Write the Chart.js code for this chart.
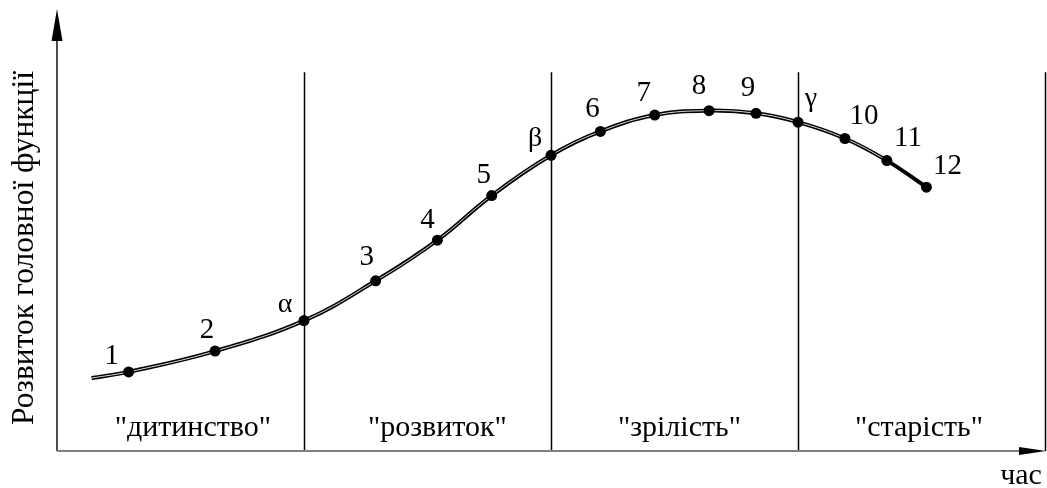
<!DOCTYPE html>
<html>
<head>
<meta charset="utf-8">
<script src="https://cdn.jsdelivr.net/npm/chart.js@4"></script>
<style>
  html, body { margin: 0; padding: 0; background: #fff; }
  #wrap { width: 1047px; height: 488px; }
</style>
</head>
<body>
<div id="wrap"><canvas id="lifeChart" width="1047" height="488"></canvas></div>
<script>
// Life cycle curve (time on x, development of the main function on y)
const timeValues = [0.14, 0.29, 0.64, 1.0, 1.29, 1.54, 1.76, 2.0, 2.2, 2.42, 2.64, 2.83, 3.0, 3.19, 3.36, 3.52];
const devValues = [16.5, 17.9, 22.6, 29.5, 38.5, 47.7, 57.8, 66.9, 72.3, 76.0, 77.0, 76.4, 74.4, 70.7, 65.7, 59.7];
const pointLabels = ['', '1', '2', 'α', '3', '4', '5', 'β', '6', '7', '8', '9', 'γ', '10', '11', '12'];
const stageNames = ['"дитинство"', '"розвиток"', '"зрілість"', '"старість"'];
const stageCenters = [0.55, 1.54, 2.52, 3.49];
const stageBounds = [1, 2, 3, 4];
const yTitle = 'Розвиток головної функції';
const xTitle = 'час';

const points = timeValues.map((t, i) => ({ x: t, y: devValues[i] }));
const SERIF = '"Liberation Serif", "Times New Roman", serif';

// label offsets from their point, px
const labelOffsets = [
    [0, 0], [-17, -15], [-8, -21], [-19, -16], [-9, -23], [-10, -20], [-8, -20], [-16, -17],
    [-8, -22], [-11, -22], [-10, -24], [-8, -25], [13, -24], [19, -22], [21, -22], [21, -21]
];

const decorPlugin = {
    id: 'decor',
    beforeDatasetsDraw(chart) {
        const ctx = chart.ctx;
        const xs = chart.scales.x, ys = chart.scales.y;
        const bottom = ys.getPixelForValue(0);
        const top = ys.getPixelForValue(85.7);
        ctx.save();
        ctx.strokeStyle = '#000';
        ctx.lineWidth = 1.5;
        stageBounds.forEach(b => {
            const px = Math.round(xs.getPixelForValue(b)) + 0.5;
            ctx.beginPath();
            ctx.moveTo(px, top);
            ctx.lineTo(px, bottom);
            ctx.stroke();
        });

        // y axis
        const x0 = xs.getPixelForValue(0);
        const yTop = ys.getPixelForValue(100);
        ctx.lineWidth = 1.4;
        ctx.beginPath();
        ctx.moveTo(x0, bottom);
        ctx.lineTo(x0, yTop + 30);
        ctx.stroke();
        ctx.fillStyle = '#000';
        ctx.beginPath();
        ctx.moveTo(x0, yTop);
        ctx.lineTo(x0 - 5.5, yTop + 32);
        ctx.lineTo(x0 + 5.5, yTop + 32);
        ctx.closePath();
        ctx.fill();

        // x axis
        const xEnd = chart.width - 1;
        ctx.strokeStyle = '#808080';
        ctx.lineWidth = 2;
        ctx.beginPath();
        ctx.moveTo(x0, bottom);
        ctx.lineTo(xEnd - 26, bottom);
        ctx.stroke();
        ctx.beginPath();
        ctx.moveTo(xEnd, bottom);
        ctx.lineTo(xEnd - 27, bottom - 4);
        ctx.lineTo(xEnd - 27, bottom + 4);
        ctx.closePath();
        ctx.fill();

        // stage names
        ctx.fillStyle = '#000';
        ctx.font = '30px ' + SERIF;
        ctx.textAlign = 'center';
        ctx.textBaseline = 'alphabetic';
        stageNames.forEach((s, i) => {
            ctx.fillText(s, xs.getPixelForValue(stageCenters[i]), bottom - 15);
        });

        // axis titles
        ctx.fillText(xTitle, 1021, 484);
        ctx.save();
        ctx.translate(33, (yTop + bottom) / 2 + 18);
        ctx.rotate(-Math.PI / 2);
        ctx.font = '31.5px ' + SERIF;
        ctx.fillText(yTitle, 0, 0);
        ctx.restore();
        ctx.restore();
    },
    afterDatasetsDraw(chart) {
        const ctx = chart.ctx;
        const meta = chart.getDatasetMeta(2);
        ctx.save();
        ctx.fillStyle = '#000';
        ctx.textAlign = 'center';
        ctx.textBaseline = 'middle';
        meta.data.forEach((el, i) => {
            const lbl = pointLabels[i];
            if (!lbl) return;
            const greek = 'αβγ'.includes(lbl);
            ctx.font = (greek ? '28px ' : '29px ') + SERIF;
            ctx.fillText(lbl, el.x + labelOffsets[i][0], el.y + labelOffsets[i][1]);
        });
        ctx.restore();
    }
};

const last = points.length - 1;

new Chart(document.getElementById('lifeChart'), {
    type: 'line',
    data: {
        datasets: [
            {
                // outer black stroke of the double line
                data: points,
                borderColor: '#000',
                borderWidth: 4,
                pointRadius: 0,
                tension: 0.4,
                order: 3
            },
            {
                // thin light core
                data: points,
                borderColor: 'rgba(255,255,255,0.85)',
                borderWidth: 1,
                pointRadius: 0,
                tension: 0.4,
                segment: {
                    borderColor: c => c.p1DataIndex === last ? 'rgba(0,0,0,0)' : undefined
                },
                order: 2
            },
            {
                data: points,
                showLine: false,
                pointRadius: points.map((p, i) => i === 0 ? 0 : 5.5),
                pointBackgroundColor: '#000',
                pointBorderColor: '#000',
                pointBorderWidth: 0,
                order: 1
            }
        ]
    },
    options: {
        responsive: false,
        devicePixelRatio: 1,
        animation: false,
        layout: { autoPadding: false, padding: { left: 57, right: 2, top: 9, bottom: 37 } },
        scales: {
            x: { type: 'linear', min: 0, max: 4, display: false },
            y: { min: 0, max: 100, display: false }
        },
        plugins: {
            legend: { display: false },
            tooltip: { enabled: false }
        }
    },
    plugins: [decorPlugin]
});
</script>
</body>
</html>
